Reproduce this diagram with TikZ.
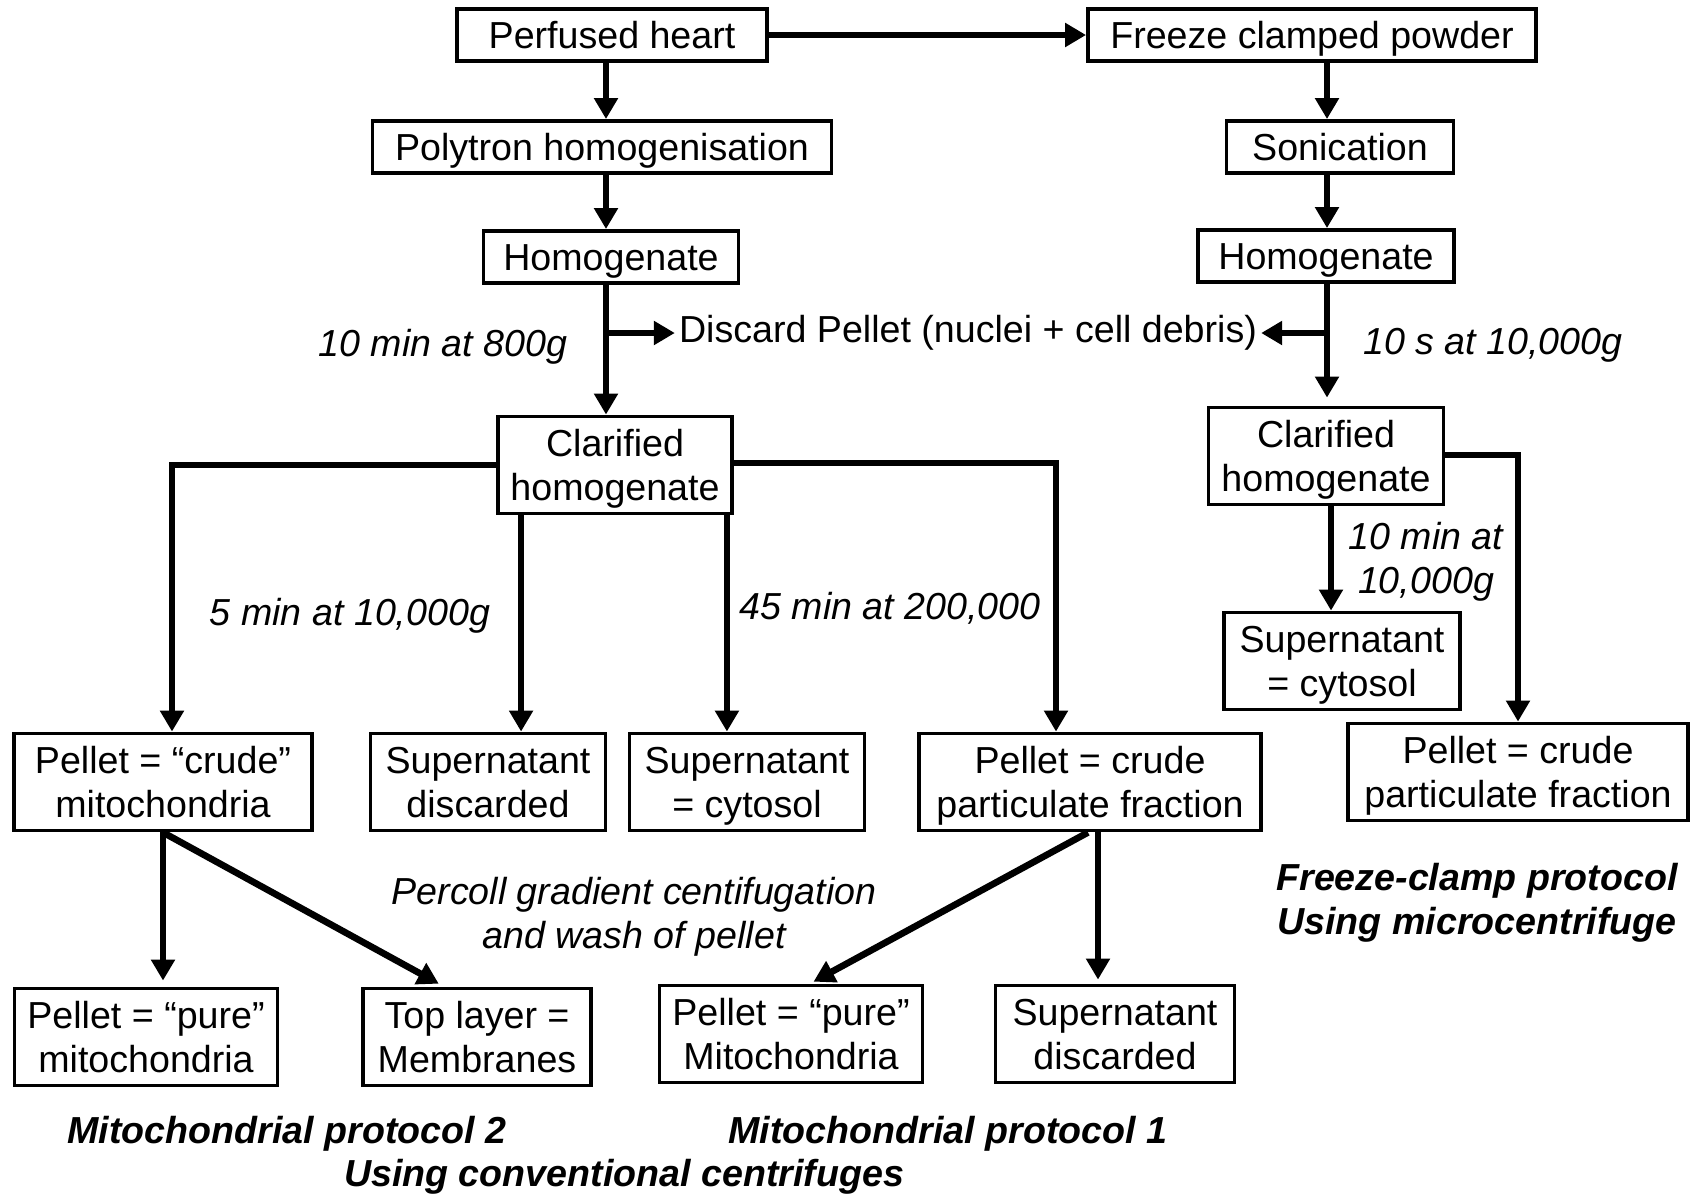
\documentclass[tikz,border=0pt]{standalone}
\usepackage{fontspec}
\setmainfont{Liberation Sans}
\usetikzlibrary{arrows.meta}

\begin{document}
\begin{tikzpicture}[
    box/.style={draw, line width=1.1pt, align=center, inner sep=1pt,
                font=\fontsize{10.7pt}{12.5pt}\selectfont},
    boxone/.style={box, minimum height=0.52cm, text height=0.98em, text depth=0.21em},
    boxtwo/.style={box, minimum height=0.97cm, text height=12.5pt+0.98em, text depth=0.21em},
    flow/.style={line width=1.9pt, -{Triangle[length=0.21cm,width=0.23cm]}},
    note/.style={align=center, inner sep=1pt, font=\fontsize{10.7pt}{12.5pt}\selectfont\itshape},
    title/.style={align=center, inner sep=1pt, font=\fontsize{10.7pt}{12.5pt}\selectfont\bfseries\itshape}
  ]

    \useasboundingbox (0,0) rectangle (16.95,-11.98);

    % Column axes
    \coordinate (colL) at (6.06,0);
    \coordinate (colR) at (13.27,0);

    % Top rows
    \node[boxone, minimum width=3.10cm] (heart) at (6.12,-0.35) {Perfused heart};
    \node[boxone, minimum width=4.48cm] (powder) at (13.12,-0.35) {Freeze clamped powder};
    \node[boxone, minimum width=4.59cm] (polytron) at (6.02,-1.47) {Polytron homogenisation};
    \node[boxone, minimum width=2.27cm] (sonic) at (13.40,-1.47) {Sonication};
    \node[boxone, minimum width=2.55cm] (homL) at (6.11,-2.57) {Homogenate};
    \node[boxone, minimum width=2.56cm] (homR) at (13.26,-2.56) {Homogenate};
    \node[inner sep=1pt, font=\fontsize{10.7pt}{12.5pt}\selectfont] (discard) at (9.68,-3.33)
        {Discard Pellet (nuclei + cell debris)};

    % Clarified homogenates
    \node[boxtwo, minimum width=2.34cm] (clarL) at (6.15,-4.65) {Clarified\\homogenate};
    \node[boxtwo, minimum width=2.35cm] (clarR) at (13.26,-4.56) {Clarified\\homogenate};

    % Fractions
    \node[boxtwo, minimum width=2.98cm] (crudeMito) at (1.63,-7.82) {Pellet = “crude”\\mitochondria};
    \node[boxtwo, minimum width=2.35cm] (supDiscL) at (4.88,-7.82) {Supernatant\\discarded};
    \node[boxtwo, minimum width=2.35cm] (supCytL) at (7.47,-7.82) {Supernatant\\= cytosol};
    \node[boxtwo, minimum width=3.42cm] (crudePartL) at (10.90,-7.82) {Pellet = crude\\particulate fraction};
    \node[boxtwo, minimum width=2.36cm] (supCytR) at (13.42,-6.61) {Supernatant\\= cytosol};
    \node[boxtwo, minimum width=3.40cm] (crudePartR) at (15.18,-7.72) {Pellet = crude\\particulate fraction};

    % Bottom row
    \node[boxtwo, minimum width=2.63cm] (pureMitoL) at (1.46,-10.37) {Pellet = “pure”\\mitochondria};
    \node[boxtwo, minimum width=2.28cm] (membranes) at (4.77,-10.37) {Top layer =\\Membranes};
    \node[boxtwo, minimum width=2.63cm] (pureMitoR) at (7.91,-10.34) {Pellet = “pure”\\Mitochondria};
    \node[boxtwo, minimum width=2.39cm] (supDiscR) at (11.15,-10.34) {Supernatant\\discarded};

    % Spin labels
    \node[note] (spinA) at (4.43,-3.47) {10 min at 800g};
    \node[note] (spinB) at (14.93,-3.45) {10 s at 10,000g};
    \node[note] (spinC) at (3.50,-6.16) {5 min at 10,000g};
    \node[note] (spinD) at (8.90,-6.08) {45 min at 200,000};
    \node[note] (spinE) at (14.26,-5.62) {10 min at\\10,000g};
    \node[note] (percoll) at (6.34,-9.17) {Percoll gradient centifugation\\and wash of pellet};

    % Protocol titles
    \node[title] (protTwo) at (2.87,-11.34) {Mitochondrial protocol 2};
    \node[title] (protOne) at (9.48,-11.34) {Mitochondrial protocol 1};
    \node[title] (conv) at (6.24,-11.77) {Using conventional centrifuges};
    \node[title] (freeze) at (14.77,-9.03) {Freeze-clamp protocol\\Using microcentrifuge};

    % Arrows, left column
    \draw[flow] (heart.east) -- (powder.west);
    \draw[flow] (heart.south -| colL) -- (polytron.north -| colL);
    \draw[flow] (polytron.south -| colL) -- (homL.north -| colL);
    \draw[flow] (homL.south -| colL) -- (clarL.north -| colL);
    \draw[flow] (discard.west -| colL) -- (discard.west);

    % Arrows, right column
    \draw[flow] (powder.south -| colR) -- (sonic.north -| colR);
    \draw[flow] (sonic.south -| colR) -- (homR.north -| colR);
    \draw[flow] (homR.south -| colR) -- ([yshift=0.08cm]clarR.north -| colR);
    \draw[flow] (discard.east -| colR) -- (discard.east);

    % Branches of the clarified homogenates
    \draw[flow] (clarL.west) -| ([xshift=0.09cm]crudeMito.north);
    \draw[flow] ([xshift=0.25cm]clarL.south west) -- ([xshift=0.25cm]clarL.south west |- supDiscL.north);
    \draw[flow] ([xshift=-0.07cm]clarL.south east) -- ([xshift=-0.07cm]clarL.south east |- supCytL.north);
    \draw[flow] ([yshift=0.02cm]clarL.east) -| ([xshift=-0.34cm]crudePartL.north);
    \draw[flow] ([xshift=0.05cm]clarR.south) -- ([xshift=0.05cm]clarR.south |- supCytR.north);
    \draw[flow] ([yshift=0.01cm]clarR.east) -| (crudePartR.north);

    % Percoll step
    \draw[flow, shorten >=0.06cm] (crudeMito.south) -- (crudeMito.south |- pureMitoL.north);
    \draw[flow, shorten >=0.06cm] (crudeMito.south) -- ([xshift=-0.33cm]membranes.north);
    \draw[flow, shorten >=0.04cm] ([xshift=-0.02cm]crudePartL.south) -- ([xshift=0.19cm]pureMitoR.north);
    \draw[flow, shorten >=0.04cm] ([xshift=0.08cm]crudePartL.south) -- ([xshift=0.08cm]crudePartL.south |- supDiscR.north);

\end{tikzpicture}
\end{document}
